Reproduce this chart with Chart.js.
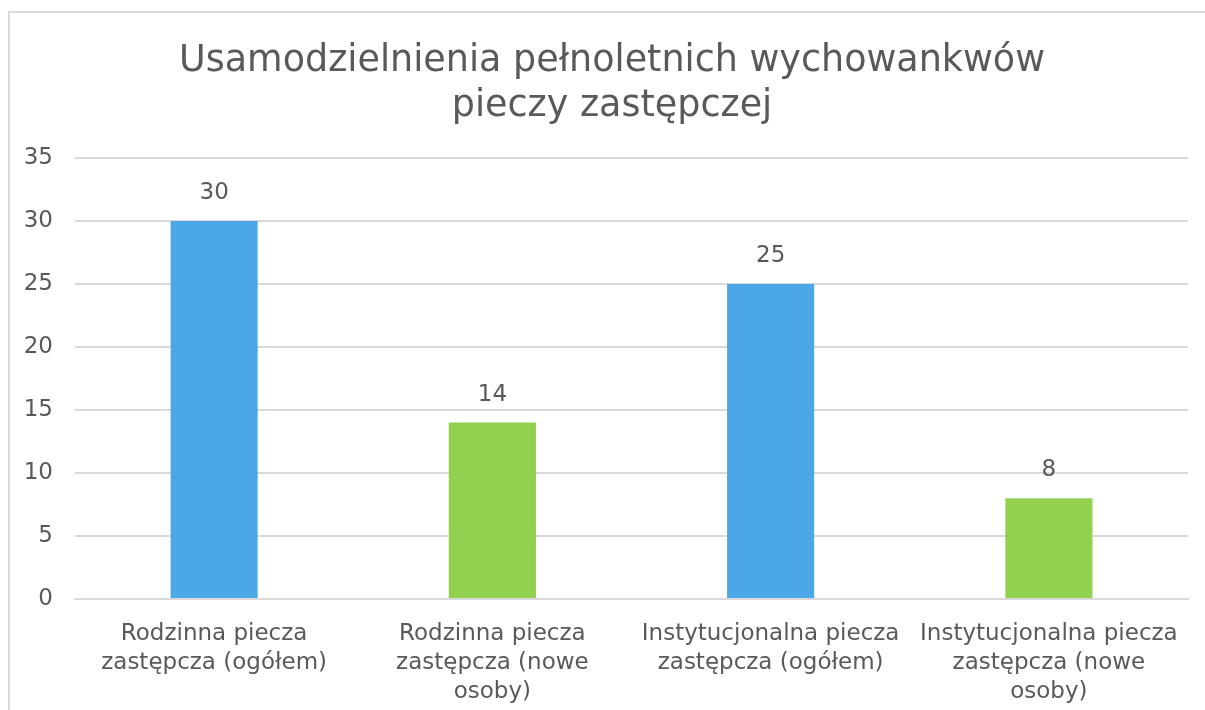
<!DOCTYPE html>
<html><head><meta charset="utf-8">
<script src="https://cdn.jsdelivr.net/npm/chart.js@4.4.1/dist/chart.umd.min.js"></script>
<style>
html,body{margin:0;padding:0;background:#fff;overflow:hidden}
#wrap{position:absolute;left:0;top:0;width:1205px;height:710px}
#frame{position:absolute;left:8px;top:11px;width:1220px;height:740px;border:2px solid #d9d9d9;box-sizing:border-box}
</style></head><body>
<div id="frame"></div>
<div id="wrap"><canvas id="c" width="1205" height="710"></canvas></div>
<script>
const titleLines = ["Usamodzielnienia pełnoletnich wychowankwów", "pieczy zastępczej"];
const categories = [
  ["Rodzinna piecza", "zastępcza (ogółem)"],
  ["Rodzinna piecza", "zastępcza (nowe", "osoby)"],
  ["Instytucjonalna piecza", "zastępcza (ogółem)"],
  ["Instytucjonalna piecza", "zastępcza (nowe", "osoby)"]
];
const values = [30, 14, 25, 8];
const barColors = ["#4BA7E6", "#92D050", "#4BA7E6", "#92D050"];
const yTicks = [0, 5, 10, 15, 20, 25, 30, 35];

const FONT = "'DejaVu Sans', sans-serif";
const TXT = "#595959";

const titleText = {
  id: 'titleText',
  afterDraw(chart) {
    const ctx = chart.ctx;
    ctx.save();
    ctx.font = "36.5px " + FONT;
    ctx.fillStyle = TXT;
    ctx.textAlign = "center";
    ctx.textBaseline = "middle";
    titleLines.forEach((t, i) => ctx.fillText(t, 612, 61.5 + i * 45));
    ctx.restore();
  }
};

const valueLabels = {
  id: 'valueLabels',
  afterDatasetsDraw(chart) {
    const ctx = chart.ctx;
    const meta = chart.getDatasetMeta(0);
    ctx.save();
    ctx.font = "23px " + FONT;
    ctx.fillStyle = TXT;
    ctx.textAlign = "center";
    ctx.textBaseline = "middle";
    meta.data.forEach((bar, i) => {
      ctx.fillText(String(chart.data.datasets[0].data[i]), bar.x, bar.y - 28);
    });
    ctx.restore();
  }
};

new Chart(document.getElementById('c'), {
  type: 'bar',
  data: {
    labels: categories,
    datasets: [{ data: values, backgroundColor: barColors, barPercentage: 0.313, categoryPercentage: 1 }]
  },
  options: {
    responsive: false,
    animation: false,
    events: [],
    layout: { padding: { left: 0, right: 17, top: 158, bottom: 0 } },
    plugins: {
      legend: { display: false },
      tooltip: { enabled: false },
      title: { display: false }
    },
    scales: {
      y: {
        min: 0, max: 35,
        afterBuildTicks(scale) { scale.ticks = yTicks.map(v => ({ value: v })); },
        afterFit(scale) { scale.width = 75; },
        grid: { color: "#d9d9d9", lineWidth: 2, drawTicks: false },
        border: { display: false },
        ticks: { color: TXT, font: { family: FONT, size: 23 }, padding: 22 }
      },
      x: {
        afterFit(scale) { scale.height = 111; },
        grid: { display: false },
        border: { color: "#d9d9d9", width: 2 },
        ticks: { color: TXT, font: { family: FONT, size: 23, lineHeight: 1.26 }, padding: 13, maxRotation: 0, autoSkip: false }
      }
    }
  },
  plugins: [valueLabels, titleText]
});
</script>
</body></html>
